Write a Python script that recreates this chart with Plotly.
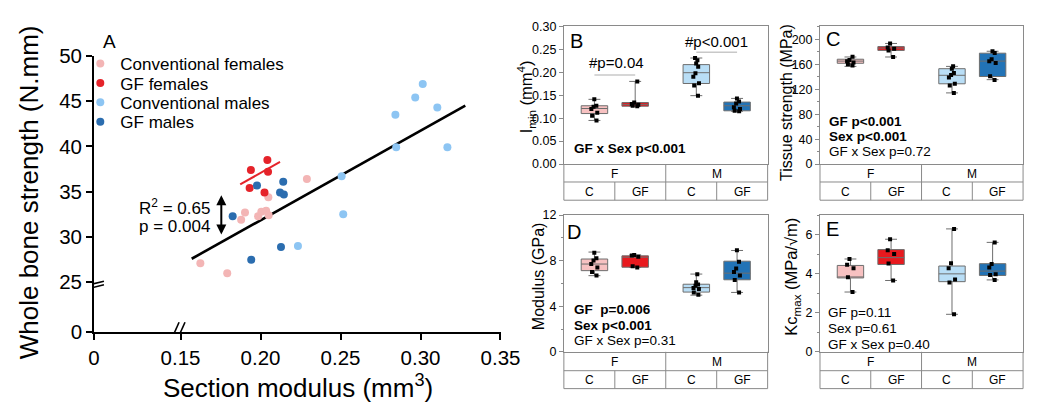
import plotly.graph_objects as go

W, H = 1038, 407
FONT = "Arial, 'Liberation Sans', Helvetica, sans-serif"

# ---------------- Panel A data (section modulus vs whole bone strength) ----------------
conv_f_x = [0.1624, 0.1792, 0.1879, 0.1903, 0.1985, 0.2005, 0.2035, 0.2051, 0.2049, 0.2290]
conv_f_y = [27.1, 26.0, 31.9, 32.7, 32.3, 32.8, 32.9, 32.4, 34.4, 36.4]
gf_f_x = [0.1940, 0.2043, 0.2047, 0.1932, 0.2025]
gf_f_y = [37.4, 38.5, 37.2, 35.4, 34.9]
conv_m_x = [0.2234, 0.2507, 0.2517, 0.2843, 0.2848, 0.2967, 0.3014, 0.3105, 0.3168]
conv_m_y = [29.0, 36.7, 32.5, 43.5, 39.9, 45.4, 46.9, 44.3, 39.9]
gf_m_x = [0.1826, 0.1978, 0.2142, 0.2122, 0.2146, 0.1942, 0.2128]
gf_m_y = [32.3, 35.7, 36.1, 34.9, 34.7, 27.5, 28.9]

fit_all_x = [0.157, 0.328]
fit_all_y = [27.6, 44.5]
fit_gff_x = [0.1873, 0.2122]
fit_gff_y = [35.8, 38.3]

a_xticks = [0.15, 0.20, 0.25, 0.30, 0.35]
a_yticks = [25, 30, 35, 40, 45, 50]

# ---------------- Box panels data ----------------
status_labels = ["C", "GF", "C", "GF"]
sex_labels = ["F", "M"]
box_pos = [0, 1, 2.5, 3.5]

# B: Imin (mm^4)
B_fc = [0.141, 0.127, 0.125, 0.120, 0.112, 0.105, 0.095]
B_fgf = [0.180, 0.134, 0.131, 0.129, 0.127, 0.126]
B_mc = [0.231, 0.226, 0.219, 0.212, 0.198, 0.190, 0.176, 0.171, 0.149]
B_mgf = [0.143, 0.136, 0.132, 0.124, 0.120, 0.116, 0.115]
B_q1 = [0.110, 0.126, 0.1755, 0.116]
B_med = [0.121, 0.130, 0.199, 0.127]
B_q3 = [0.127, 0.134, 0.2166, 0.135]
B_min = [0.095, 0.126, 0.149, 0.115]
B_max = [0.141, 0.180, 0.231, 0.143]

# C: Tissue strength (MPa)
C_fc = [172, 167, 165, 163, 160, 158]
C_fgf = [193.5, 187, 185, 182.4, 171.8]
C_mc = [157, 153, 146, 143, 139, 129, 126, 114]
C_mgf = [181, 178, 168, 165, 162, 141, 135]
C_q1 = [161.7, 182.4, 128.8, 140.5]
C_med = [165.2, 186.0, 142.4, 165.2]
C_q3 = [168.2, 188.5, 153.0, 177.9]
C_min = [156.7, 171.8, 114.2, 135.4]
C_max = [171.8, 193.5, 156.7, 181.0]

# D: Modulus (GPa)
D_fc = [8.7, 8.2, 8.0, 7.7, 7.4, 7.0, 6.7]
D_fgf = [8.5, 8.45, 8.35, 7.5, 7.4]
D_mc = [6.8, 6.1, 5.9, 5.8, 5.6, 5.5, 5.2, 5.0]
D_mgf = [8.9, 7.9, 7.3, 7.0, 6.7, 6.3, 5.2]
D_q1 = [7.12, 7.42, 5.24, 6.32]
D_med = [7.70, 8.30, 5.63, 6.90]
D_q3 = [8.14, 8.42, 5.93, 7.95]
D_min = [6.68, 7.40, 4.97, 5.21]
D_max = [8.75, 8.50, 6.82, 8.89]

# E: Kc max (MPa/sqrt(m))
E_fc = [4.75, 4.45, 4.27, 3.81, 3.06]
E_fgf = [5.76, 5.2, 5.0, 4.52, 3.65]
E_mc = [6.29, 4.53, 4.28, 3.70, 3.55, 1.92]
E_mgf = [5.6, 4.5, 4.31, 3.97, 3.93, 3.68]
E_q1 = [3.78, 4.47, 3.59, 3.91]
E_med = [3.82, 4.82, 3.99, 4.13]
E_q3 = [4.42, 5.23, 4.39, 4.51]
E_min = [3.06, 3.65, 1.92, 3.68]
E_max = [4.75, 5.76, 6.29, 5.60]

# ---------------- styling ----------------
PINK_DOT, RED_DOT, LBLUE_DOT, DBLUE_DOT = "#F3B5B5", "#E5232A", "#8DC5F3", "#2B6DAF"
BOX_FILLS = ["#F7C1C1", "#E8191E", "#B9DEF6", "#2273B6"]
BOX_LINE = "#6E6E6E"
FRAME = "#8A8A8A"


def px(x):
    return x / W


def py(y):
    return 1 - y / H


fig = go.Figure()

# ================= Panel A =================
# display positions of the broken-axis origin
A_X_ZERO = 0.0959
A_Y_ZERO = 19.48

series_a = [
    ("Conventional females", conv_f_x, conv_f_y, PINK_DOT, "legend", 46.7),
    ("GF females", gf_f_x, gf_f_y, RED_DOT, "legend2", 67.3),
    ("Conventional males", conv_m_x, conv_m_y, LBLUE_DOT, "legend3", 87.7),
    ("GF males", gf_m_x, gf_m_y, DBLUE_DOT, "legend4", 108.3),
]
fig.add_trace(go.Scatter(x=fit_all_x, y=fit_all_y, mode="lines",
                         line=dict(color="black", width=2.6), showlegend=False,
                         xaxis="x", yaxis="y", hoverinfo="skip"))
for name, xs, ys, col, lg, _ in series_a:
    fig.add_trace(go.Scatter(x=xs, y=ys, mode="markers", name=name,
                             marker=dict(color=col, size=8), legend=lg,
                             xaxis="x", yaxis="y"))
fig.add_trace(go.Scatter(x=fit_gff_x, y=fit_gff_y, mode="lines",
                         line=dict(color=RED_DOT, width=2), showlegend=False,
                         xaxis="x", yaxis="y", hoverinfo="skip"))

legend_layout = {}
for name, xs, ys, col, lg, yc in series_a:
    legend_layout[lg] = dict(x=px(68), xanchor="left", y=py(yc), yanchor="middle",
                             bgcolor="rgba(0,0,0,0)", borderwidth=0,
                             font=dict(size=17, family=FONT, color="black"))

axis_a_common = dict(showline=True, linecolor="black", linewidth=1.6, ticks="outside",
                     ticklen=6, tickwidth=1.6, tickcolor="black", showgrid=False,
                     zeroline=False, tickfont=dict(size=20.5, family=FONT, color="black"))

fig.update_layout(
    xaxis=dict(domain=[px(82), px(499)], range=[A_X_ZERO, 0.35], anchor="y",
               tickvals=[A_X_ZERO] + a_xticks,
               ticktext=["0"] + [f"{v:.2f}" for v in a_xticks], **axis_a_common),
    yaxis=dict(domain=[py(331), py(38)], range=[A_Y_ZERO, 50], anchor="x",
               tickvals=[A_Y_ZERO] + a_yticks,
               ticktext=["0"] + [str(v) for v in a_yticks], **axis_a_common),
)

shapes = []
# axis break marks
for yc in (24.85, 24.45):
    shapes.append(dict(type="line", xref="x", yref="y", xsizemode="pixel", ysizemode="pixel",
                       xanchor=A_X_ZERO, yanchor=yc, x0=-10, x1=10, y0=-2.5, y1=2.5,
                       line=dict(color="black", width=1.6)))
for xc in (0.1463, 0.1500):
    shapes.append(dict(type="line", xref="x", yref="y", xsizemode="pixel", ysizemode="pixel",
                       xanchor=xc, yanchor=A_Y_ZERO, x0=-4.5, x1=4.5, y0=-10, y1=10,
                       line=dict(color="black", width=1.6)))

annotations = []


def ann(text, x, y, size, xanchor="center", yanchor="middle", angle=0, color="black"):
    annotations.append(dict(text=text, x=px(x), y=py(y), xref="paper", yref="paper",
                            showarrow=False, xanchor=xanchor, yanchor=yanchor,
                            textangle=angle, font=dict(size=size, family=FONT, color=color)))


ann("A", 98, 23, 19)
ann("Whole bone strength (N.mm)", 15, 183, 26, angle=-90)
ann("Section modulus (mm<sup>3</sup>)", 291, 388, 26)
ann("R<sup>2</sup> = 0.65", 126, 198.7, 17, xanchor="left")
ann("p = 0.004", 126, 219, 17, xanchor="left")
annotations.append(dict(x=0.1755, y=34.6, ax=0.1755, ay=30.1, xref="x", yref="y",
                        axref="x", ayref="y", text="", showarrow=True, arrowhead=2,
                        arrowside="end+start", arrowsize=1, arrowwidth=2,
                        arrowcolor="black", standoff=0, startstandoff=0))

# ================= Box panels =================
panels = [
    dict(n=2, letter="B", xd=(564, 773), yd=(6.7, 152.7), tb=(171.7, 191.0),
         yr=[0, 0.30], dtick=0.05, minor=None, fmt=".2f",
         pts=[B_fc, B_fgf, B_mc, B_mgf], q1=B_q1, med=B_med, q3=B_q3, lo=B_min, hi=B_max),
    dict(n=3, letter="C", xd=(826.7, 1035), yd=(6.7, 152.7), tb=(171.7, 191.0),
         yr=[0, 221], dtick=40, minor=20, fmt="d",
         pts=[C_fc, C_fgf, C_mc, C_mgf], q1=C_q1, med=C_med, q3=C_q3, lo=C_min, hi=C_max),
    dict(n=4, letter="D", xd=(564, 773), yd=(206.7, 351.7), tb=(371.7, 390.7),
         yr=[0, 12], dtick=4, minor=2, fmt="d",
         pts=[D_fc, D_fgf, D_mc, D_mgf], q1=D_q1, med=D_med, q3=D_q3, lo=D_min, hi=D_max),
    dict(n=5, letter="E", xd=(826.7, 1035), yd=(206.7, 351.7), tb=(371.7, 390.7),
         yr=[0, 7], dtick=2, minor=1, fmt="d",
         pts=[E_fc, E_fgf, E_mc, E_mgf], q1=E_q1, med=E_med, q3=E_q3, lo=E_min, hi=E_max),
]

axes_layout = {}
for p in panels:
    n = p["n"]
    xa, ya = f"x{n}", f"y{n}"
    for g in range(4):
        fig.add_trace(go.Box(
            x=[box_pos[g]], y=[p["pts"][g]],
            q1=[p["q1"][g]], median=[p["med"][g]], q3=[p["q3"][g]],
            lowerfence=[p["lo"][g]], upperfence=[p["hi"][g]],
            boxpoints="all", jitter=0.3, pointpos=0, width=0.65, whiskerwidth=0.45,
            fillcolor=BOX_FILLS[g], line=dict(color=BOX_LINE, width=1),
            marker=dict(color="black", size=4, symbol="square"),
            showlegend=False, xaxis=xa, yaxis=ya))
    L, R = p["xd"]
    T, B = p["yd"]
    r1, r2 = p["tb"]
    yaxis_cfg = dict(domain=[py(B), py(T)], range=p["yr"], anchor=xa, showline=True,
                     mirror=True, linecolor=FRAME, linewidth=1, ticks="outside",
                     ticklen=4, tickcolor=FRAME, dtick=p["dtick"], tick0=0,
                     tickformat=p["fmt"], showgrid=False, zeroline=False,
                     tickfont=dict(size=12.5, family=FONT, color="black"))
    if p["minor"]:
        yaxis_cfg["minor"] = dict(dtick=p["minor"], ticks="outside", ticklen=2,
                                  tickcolor=FRAME, showgrid=False)
    axes_layout[f"xaxis{n}"] = dict(domain=[px(L), px(R)], range=[-0.75, 4.25], anchor=ya,
                                    showline=True, mirror=True, linecolor=FRAME, linewidth=1,
                                    showticklabels=False, ticks="", showgrid=False,
                                    zeroline=False)
    axes_layout[f"yaxis{n}"] = yaxis_cfg

    # category table under the plot
    line = dict(color=FRAME, width=1)
    wq = (R - L) / 4
    for xv in (L, R, L + 2 * wq):
        shapes.append(dict(type="line", xref="paper", yref="paper", x0=px(xv), x1=px(xv),
                           y0=py(B), y1=py(r2), line=line))
    for xv in (L + wq, L + 3 * wq):
        shapes.append(dict(type="line", xref="paper", yref="paper", x0=px(xv), x1=px(xv),
                           y0=py(r1), y1=py(r2), line=line))
    for yv in (r1, r2):
        shapes.append(dict(type="line", xref="paper", yref="paper", x0=px(L), x1=px(R),
                           y0=py(yv), y1=py(yv), line=line))
    for k, s in enumerate(sex_labels):
        ann(s, L + wq * (2 * k + 1), (B + r1) / 2 + 0.5, 12)
    for k, s in enumerate(status_labels):
        ann(s, L + wq * (k + 0.5), (r1 + r2) / 2 + 0.5, 12)

fig.update_layout(**axes_layout, **legend_layout)

# panel letters
ann("B", 576.7, 22, 20)
ann("C", 840, 20.5, 20)
ann("D", 574.5, 225, 20)
ann("E", 840, 221, 20)

# y-axis titles
ann("I<sub>min</sub> (mm<sup>4</sup>)", 526, 81, 16.5, angle=-90)
ann("Tissue strength (MPa)", 791.7, 87, 16, angle=-90)
ann("Modulus (GPa)", 538, 272, 16, angle=-90)
ann("Kc<sub>max</sub> (MPa/√m)", 798.5, 271.5, 16.5, angle=-90)

# statistics text
ann("<b>GF x Sex p&lt;0.001</b>", 572, 136.5, 13.5, xanchor="left")
ann("<b>GF p&lt;0.001</b>", 834, 107.3, 13.5, xanchor="left")
ann("<b>Sex p&lt;0.001</b>", 834, 123.3, 13.5, xanchor="left")
ann("GF x Sex p=0.72", 834, 139.5, 13.5, xanchor="left")
ann("<b>GF  p=0.006</b>", 572, 307.3, 13.5, xanchor="left")
ann("<b>Sex p&lt;0.001</b>", 572, 323.3, 13.5, xanchor="left")
ann("GF x Sex p=0.31", 572, 339.5, 13.5, xanchor="left")
ann("GF p=0.11", 833, 310, 13.5, xanchor="left")
ann("Sex p=0.61", 833, 327.3, 13.5, xanchor="left")
ann("GF x Sex p=0.40", 833, 344.3, 13.5, xanchor="left")

# significance bars in panel B
for x0, x1, yv, label, xt, yt in [(0, 1, 0.194, "#p=0.04", 0.55, 0.221),
                                   (2.5, 3.5, 0.2435, "#p&lt;0.001", 3.0, 0.266)]:
    shapes.append(dict(type="line", xref="x2", yref="y2", x0=x0, x1=x1, y0=yv, y1=yv,
                       line=dict(color="#C8C8C8", width=1.5)))
    annotations.append(dict(text=label, x=xt, y=yt, xref="x2", yref="y2", showarrow=False,
                            font=dict(size=15, family=FONT, color="black")))

fig.update_layout(
    width=W, height=H, margin=dict(l=0, r=0, t=0, b=0),
    paper_bgcolor="white", plot_bgcolor="white",
    font=dict(family=FONT, color="black"),
    shapes=shapes, annotations=annotations,
    boxmode="overlay",
)

fig.write_html("out.html")
